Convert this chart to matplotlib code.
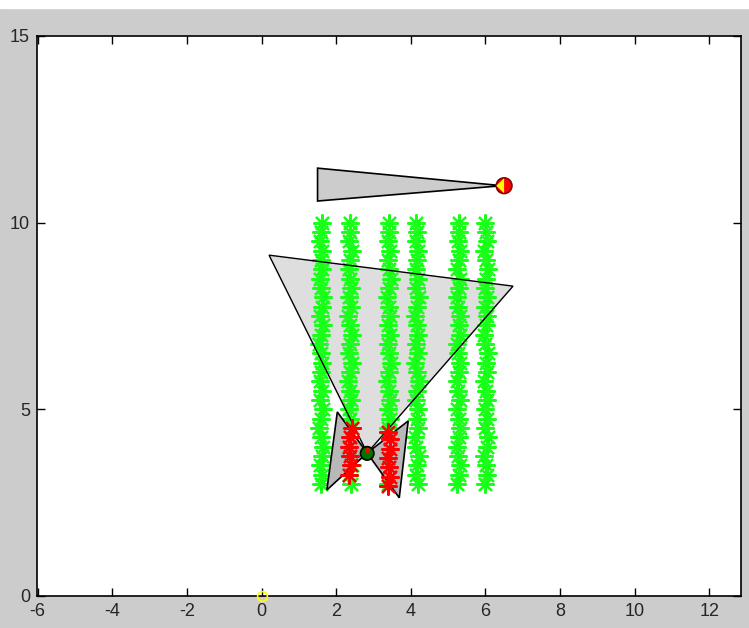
import matplotlib
matplotlib.use('Agg')
import matplotlib.pyplot as plt
from matplotlib.patches import Circle, Rectangle

plt.rcParams['axes.unicode_minus'] = False

# rows of sensed points (green), same y samples for every row
row_y = [3.0, 3.25, 3.5, 3.75, 4.0, 4.25, 4.5, 4.75, 5.0, 5.25, 5.5, 5.75, 6.0, 6.25, 6.5,
         6.75, 7.0, 7.25, 7.5, 7.75, 8.0, 8.25, 8.5, 8.75, 9.0, 9.25, 9.5, 9.75, 10.0]
row1_x = [1.58, 1.63, 1.56, 1.61, 1.65, 1.59, 1.55, 1.60, 1.64, 1.57, 1.62, 1.56, 1.60, 1.63, 1.58,
          1.54, 1.60, 1.64, 1.57, 1.61, 1.65, 1.60, 1.56, 1.62, 1.58, 1.63, 1.57, 1.60, 1.61]
row2_x = [2.39, 2.34, 2.41, 2.36, 2.32, 2.38, 2.42, 2.37, 2.33, 2.40, 2.36, 2.32, 2.37, 2.41, 2.34,
          2.38, 2.43, 2.36, 2.32, 2.39, 2.34, 2.40, 2.37, 2.33, 2.38, 2.42, 2.35, 2.38, 2.37]
row3_x = [3.39, 3.45, 3.41, 3.37, 3.44, 3.46, 3.40, 3.43, 3.38, 3.45, 3.41, 3.37, 3.42, 3.46, 3.41,
          3.38, 3.44, 3.40, 3.45, 3.42, 3.37, 3.41, 3.46, 3.42, 3.39, 3.44, 3.38, 3.42, 3.41]
row4_x = [4.19, 4.13, 4.17, 4.21, 4.15, 4.12, 4.19, 4.16, 4.20, 4.13, 4.17, 4.22, 4.16, 4.12, 4.19,
          4.15, 4.20, 4.16, 4.11, 4.17, 4.21, 4.14, 4.19, 4.13, 4.17, 4.20, 4.14, 4.16, 4.14]
row5_x = [5.24, 5.29, 5.32, 5.27, 5.23, 5.28, 5.33, 5.29, 5.25, 5.31, 5.27, 5.23, 5.29, 5.32, 5.27,
          5.24, 5.31, 5.28, 5.33, 5.27, 5.24, 5.29, 5.32, 5.25, 5.28, 5.31, 5.26, 5.29, 5.28]
row6_x = [5.99, 6.05, 6.01, 5.97, 6.04, 6.06, 6.00, 6.03, 5.98, 6.05, 6.02, 5.97, 6.04, 6.01, 6.06,
          6.00, 5.96, 6.02, 6.05, 6.00, 6.04, 5.98, 6.02, 6.06, 6.01, 5.97, 6.04, 6.02, 6.00]

# points currently seen by the short sensors (red)
red_left_x = [2.35, 2.40, 2.36, 2.33, 2.38, 2.41]
red_left_y = [3.25, 3.5, 3.75, 4.0, 4.25, 4.5]
red_right_x = [3.40, 3.44, 3.41, 3.38, 3.43, 3.45, 3.40]
red_right_y = [2.95, 3.2, 3.45, 3.7, 3.95, 4.2, 4.4]

# sensor cones
cone_x = [0.20, 6.74, 2.83]
cone_y = [9.13, 8.30, 3.83]
wedge_x = [1.50, 1.50, 6.45]
wedge_y = [11.46, 10.58, 10.99]
bow_left_x = [2.03, 1.75, 2.83]
bow_left_y = [4.93, 2.84, 3.83]
bow_right_x = [3.93, 3.69, 2.83]
bow_right_y = [4.69, 2.63, 3.83]

# robots
robot_a = (2.83, 3.82)
robot_b = (6.50, 10.99)
arrow_x = [6.29, 6.50, 6.50]
arrow_y = [10.99, 11.19, 10.79]
origin = (0, 0)

fig = plt.figure(figsize=(7.49, 6.28), dpi=100, facecolor=(0.8, 0.8, 0.8))
fig.add_artist(Rectangle((0, 1 - 8 / 628), 1, 8 / 628, transform=fig.transFigure,
                         color='white', zorder=0))
ax = fig.add_axes([37 / 749, 32 / 628, 704 / 749, 560 / 628])

ax.fill(cone_x, cone_y, facecolor=(0.87, 0.87, 0.87), edgecolor='none', zorder=1)
ax.fill(wedge_x, wedge_y, facecolor=(0.8, 0.8, 0.8), edgecolor='black', lw=1.2, zorder=1)

star = (8, 2, 0)
for xs in [row1_x, row2_x, row3_x, row4_x, row5_x, row6_x]:
    ax.plot(xs, row_y, ls='none', marker=star, ms=13, mew=1.6, color=(0.1, 1.0, 0.1), zorder=2)

ax.fill(cone_x, cone_y, facecolor='none', edgecolor='black', lw=1.0, zorder=3)
ax.fill(bow_left_x, bow_left_y, facecolor=(0.72, 0.72, 0.72), edgecolor='black', lw=1.2, zorder=3)
ax.fill(bow_right_x, bow_right_y, facecolor=(0.72, 0.72, 0.72), edgecolor='black', lw=1.2, zorder=3)

ax.plot(red_left_x, red_left_y, ls='none', marker=star, ms=13, mew=1.6, color='red', zorder=4)
ax.plot(red_right_x, red_right_y, ls='none', marker=star, ms=13, mew=1.6, color='red', zorder=4)

ax.add_patch(Circle(robot_a, 0.18, facecolor=(0.0, 0.45, 0.0), edgecolor='black', lw=1.2, zorder=5))
ax.plot(robot_a[0], robot_a[1] + 0.08, 'o', ms=2.5, color='red', zorder=6)
ax.add_patch(Circle(robot_b, 0.21, facecolor='red', edgecolor=(0.5, 0.0, 0.0), lw=1.2, zorder=5))
ax.fill(arrow_x, arrow_y, facecolor='yellow', edgecolor='none', zorder=6)
ax.plot(origin[0], origin[1], 'o', ms=7, mfc='none', mec='yellow', mew=1.2, zorder=6, clip_on=False)

ax.set_xlim(-6.02, 12.85)
ax.set_ylim(0, 15)
ax.set_xticks(range(-6, 13, 2))
ax.set_yticks([0, 5, 10, 15])
ax.tick_params(direction='in', top=True, right=True, length=6, width=1, labelsize=13, pad=5,
               labelcolor=(0.15, 0.15, 0.15))
for lab in ax.get_xticklabels() + ax.get_yticklabels():
    lab.set_family('Liberation Sans')
for s in ax.spines.values():
    s.set_linewidth(1.2)

fig.savefig('out.png', dpi=100, facecolor=fig.get_facecolor())
